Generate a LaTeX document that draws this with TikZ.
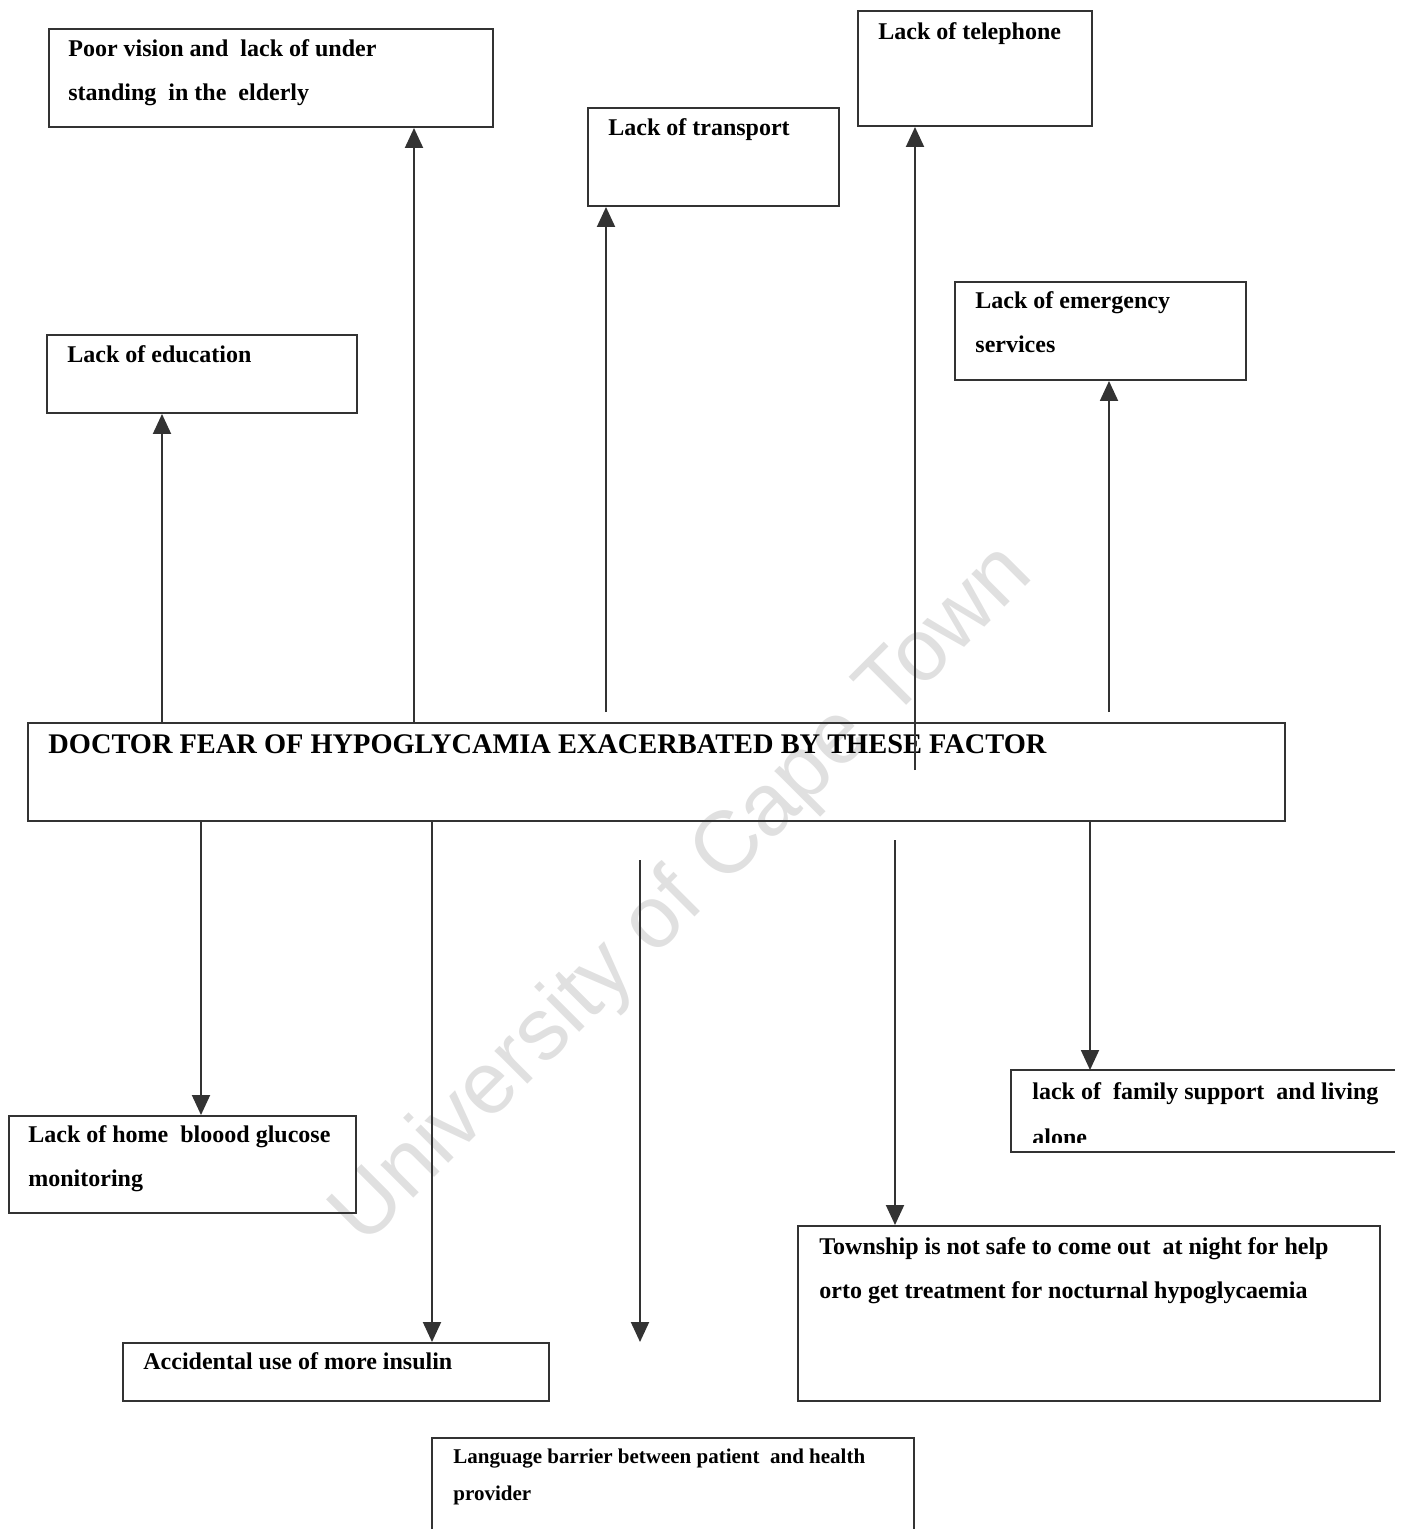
\documentclass[tikz,border=0pt]{standalone}
\usepackage{fontspec}
\setmainfont{Liberation Serif}
\newfontfamily\wmfont{Liberation Sans}
\usetikzlibrary{arrows.meta,positioning}

\begin{document}
\begin{tikzpicture}[x=0.5pt,y=-0.5pt,
	box/.style={draw=black!80,line width=1pt,rectangle,inner sep=0pt,anchor=north west},
	txt/.style={inner sep=0pt,anchor=base west,align=left,font=\fontsize{12}{22}\selectfont\bfseries},
	arr/.style={draw=black!80,line width=1pt,-{Triangle[width=9pt,length=10pt]}}]
    \clip (0,0) rectangle (1401,1529);
    % watermark
    \node[rotate=45,anchor=base,text=black!12,font=\wmfont\fontsize{44}{44}\selectfont] (wm) at (700,912) {University of Cape Town};

    \node[box,minimum width=628.5pt,minimum height=49pt] (main) at (27,722) {};
    \node[txt,font=\fontsize{14.2}{20}\selectfont\bfseries] (maint) at (48,753) {DOCTOR FEAR OF HYPOGLYCAMIA EXACERBATED BY THESE FACTOR};

    % boxes above (base anchor = last line)
    \node[box,minimum width=222pt,minimum height=49pt] (poor) at (48,28) {};
    \node[txt] (poort) at (68,101) {Poor vision and~ lack of under\\standing~ in the~ elderly};
    \node[box,minimum width=125.5pt,minimum height=49pt] (trans) at (587,107) {};
    \node[txt] (transt) at (608,136) {Lack of transport};
    \node[box,minimum width=117pt,minimum height=57.5pt] (tel) at (857,10) {};
    \node[txt] (telt) at (878,40) {Lack of telephone};
    \node[box,minimum width=145.5pt,minimum height=49pt] (emerg) at (954,281) {};
    \node[txt] (emergt) at (975,353) {Lack of emergency\\services};
    \node[box,minimum width=155pt,minimum height=39pt] (edu) at (46,334) {};
    \node[txt] (edut) at (67,363) {Lack of education};

    % boxes below
    \node[box,minimum width=173.5pt,minimum height=48.5pt] (home) at (8,1115) {};
    \node[txt] (homet) at (28,1186) {Lack of home~ bloood glucose\\monitoring};
    \node[box,minimum width=213pt,minimum height=29pt] (acc) at (122,1342) {};
    \node[txt] (acct) at (143,1369) {Accidental use of more insulin};
    \node[box,minimum width=241pt,minimum height=70pt] (lang) at (431,1437) {};
    \node[txt,font=\fontsize{10.5}{18.5}\selectfont\bfseries] (langt) at (453,1500) {Language barrier between patient~ and health\\provider};
    \node[box,minimum width=291pt,minimum height=87.5pt] (town) at (797,1225) {};
    \node[txt] (townt) at (819,1298) {Township is not safe to come out~ at night for help\\orto get treatment for nocturnal hypoglycaemia};
    \node[box,draw=none,minimum width=191pt,minimum height=40pt] (fam) at (1011,1070) {};
    \draw[black!80,line width=1pt] (fam.north east) -- (fam.north west) -- (fam.south west) -- (fam.south east);
    \node[txt] (famt) at (1032,1099) {lack of~ family support~ and living};
    \begin{scope}
      \clip (fam.north west) rectangle ([yshift=5pt]fam.south east);
      \node[txt] (famt2) at (1032,1145) {alone};
    \end{scope}

    % arrows up
    \coordinate (eduin) at ([xshift=58pt]edu.south west);
    \coordinate (poorin) at ([xshift=183pt]poor.south west);
    \coordinate (transin) at ([xshift=9.5pt]trans.south west);
    \coordinate (telin) at ([xshift=29pt]tel.south west);
    \coordinate (emergin) at ([xshift=77.5pt]emerg.south west);
    \draw[arr] (eduin |- main.north) -- (eduin);
    \draw[arr] (poorin |- main.north) -- (poorin);
    \draw[arr] ([yshift=5pt]transin |- main.north) -- (transin);
    \draw[arr] ([yshift=-24pt]telin |- main.north) -- (telin);
    \draw[arr] ([yshift=5pt]emergin |- main.north) -- (emergin);

    % arrows down
    \coordinate (homein) at ([xshift=96.5pt]home.north west);
    \coordinate (accin) at ([xshift=155pt]acc.north west);
    \coordinate (langin) at ([xshift=104.5pt,yshift=47.5pt]lang.north west);
    \coordinate (townin) at ([xshift=49pt]town.north west);
    \coordinate (famin) at ([xshift=39.5pt]fam.north west);
    \draw[arr] (main.south -| homein) -- (homein);
    \draw[arr] (main.south -| accin) -- (accin);
    \draw[arr] ([yshift=-19pt]main.south -| langin) -- (langin);
    \draw[arr] ([yshift=-9pt]main.south -| townin) -- (townin);
    \draw[arr] (main.south -| famin) -- (famin);
\end{tikzpicture}
\end{document}
